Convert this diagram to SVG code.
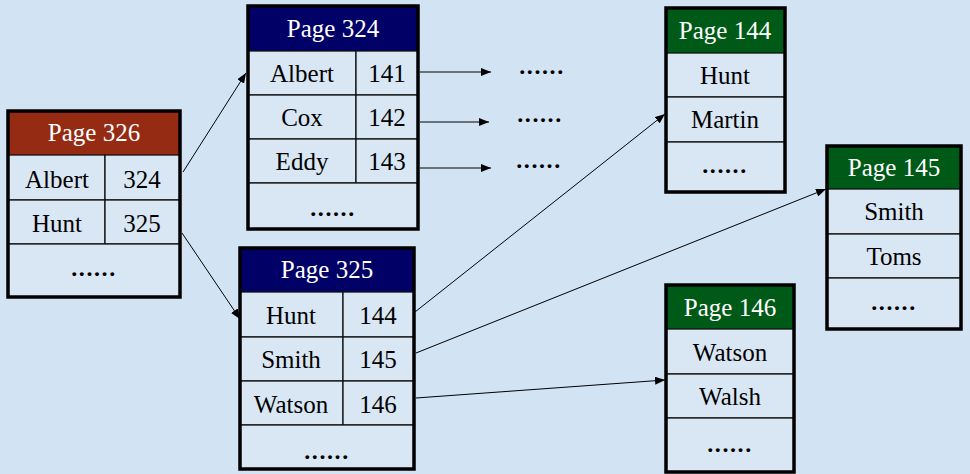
<svg xmlns="http://www.w3.org/2000/svg" width="970" height="474" viewBox="0 0 970 474">
<defs>
<marker id="ah" viewBox="0 0 10 8" refX="10" refY="4" markerWidth="10" markerHeight="8" markerUnits="userSpaceOnUse" orient="auto">
<path d="M0,0 L10,4 L0,8 Z" fill="#000"/>
</marker>
</defs>
<style>
.bg{fill:#d2e3f3}
.cell{fill:#d9e7f5;stroke:#111;stroke-width:1.3}
.frame{fill:none;stroke:#000;stroke-width:3.5}
.red{fill:#962b14}
.navy{fill:#000066}
.green{fill:#005a17}
.ht{font-family:"Liberation Serif","Times New Roman",serif;font-size:25px;fill:#fff;text-anchor:middle}
.t{font-family:"Liberation Serif","Times New Roman",serif;font-size:25px;fill:#000;text-anchor:middle}
.d{font-family:"Liberation Serif","Times New Roman",serif;font-size:24px;font-weight:bold;fill:#000;text-anchor:middle;letter-spacing:1.6px}
.c{stroke:#000;stroke-width:1;fill:none;marker-end:url(#ah)}
</style>
<rect class="bg" x="0" y="0" width="970" height="474"/>

<g id="page326">
<rect class="red" x="8" y="111" width="172" height="44"/>
<rect class="cell" x="8" y="155" width="97" height="45"/>
<rect class="cell" x="105" y="155" width="75" height="45"/>
<rect class="cell" x="8" y="200" width="97" height="44"/>
<rect class="cell" x="105" y="200" width="75" height="44"/>
<rect class="cell" x="8" y="244" width="172" height="53"/>
<rect class="frame" x="8" y="111" width="172" height="186"/>
<text class="ht" x="94" y="141">Page 326</text>
<text class="t" x="57" y="188">Albert</text>
<text class="t" x="142" y="188">324</text>
<text class="t" x="57" y="232">Hunt</text>
<text class="t" x="142" y="232">325</text>
<text class="d" x="94" y="276">......</text>
</g>

<g id="page324">
<rect class="navy" x="248" y="6" width="170" height="45"/>
<rect class="cell" x="248" y="51" width="108" height="44"/>
<rect class="cell" x="356" y="51" width="62" height="44"/>
<rect class="cell" x="248" y="95" width="108" height="44"/>
<rect class="cell" x="356" y="95" width="62" height="44"/>
<rect class="cell" x="248" y="139" width="108" height="44"/>
<rect class="cell" x="356" y="139" width="62" height="44"/>
<rect class="cell" x="248" y="183" width="170" height="46"/>
<rect class="frame" x="248" y="6" width="170" height="223"/>
<text class="ht" x="333" y="37">Page 324</text>
<text class="t" x="302" y="82">Albert</text>
<text class="t" x="387" y="82">141</text>
<text class="t" x="302" y="126">Cox</text>
<text class="t" x="387" y="126">142</text>
<text class="t" x="302" y="170">Eddy</text>
<text class="t" x="387" y="170">143</text>
<text class="d" x="333" y="216">......</text>
</g>

<g id="page325">
<rect class="navy" x="240" y="248" width="174" height="44"/>
<rect class="cell" x="240" y="292" width="103" height="45"/>
<rect class="cell" x="343" y="292" width="71" height="45"/>
<rect class="cell" x="240" y="337" width="103" height="44"/>
<rect class="cell" x="343" y="337" width="71" height="44"/>
<rect class="cell" x="240" y="381" width="103" height="44"/>
<rect class="cell" x="343" y="381" width="71" height="44"/>
<rect class="cell" x="240" y="425" width="174" height="44"/>
<rect class="frame" x="240" y="248" width="174" height="221"/>
<text class="ht" x="327" y="278">Page 325</text>
<text class="t" x="291" y="324">Hunt</text>
<text class="t" x="378" y="324">144</text>
<text class="t" x="291" y="368">Smith</text>
<text class="t" x="378" y="368">145</text>
<text class="t" x="291" y="413">Watson</text>
<text class="t" x="378" y="413">146</text>
<text class="d" x="327" y="459">......</text>
</g>

<g id="page144">
<rect class="green" x="666" y="8" width="119" height="45"/>
<rect class="cell" x="666" y="53" width="119" height="44"/>
<rect class="cell" x="666" y="97" width="119" height="45"/>
<rect class="cell" x="666" y="142" width="119" height="50"/>
<rect class="frame" x="666" y="8" width="119" height="184"/>
<text class="ht" x="725" y="39">Page 144</text>
<text class="t" x="725" y="84">Hunt</text>
<text class="t" x="725" y="128">Martin</text>
<text class="d" x="725" y="173">......</text>
</g>

<g id="page145">
<rect class="green" x="827" y="146" width="134" height="43"/>
<rect class="cell" x="827" y="189" width="134" height="45"/>
<rect class="cell" x="827" y="234" width="134" height="44"/>
<rect class="cell" x="827" y="278" width="134" height="51"/>
<rect class="frame" x="827" y="146" width="134" height="183"/>
<text class="ht" x="894" y="176">Page 145</text>
<text class="t" x="894" y="220">Smith</text>
<text class="t" x="894" y="265">Toms</text>
<text class="d" x="894" y="310">......</text>
</g>

<g id="page146">
<rect class="green" x="666" y="285" width="128" height="44"/>
<rect class="cell" x="666" y="329" width="128" height="45"/>
<rect class="cell" x="666" y="374" width="128" height="44"/>
<rect class="cell" x="666" y="418" width="128" height="54"/>
<rect class="frame" x="666" y="285" width="128" height="187"/>
<text class="ht" x="730" y="316">Page 146</text>
<text class="t" x="730" y="361">Watson</text>
<text class="t" x="730" y="405">Walsh</text>
<text class="d" x="730" y="452">......</text>
</g>

<g id="dots">
<text class="d" x="542" y="74">......</text>
<text class="d" x="540" y="122">......</text>
<text class="d" x="539" y="168">......</text>
</g>

<g id="connectors">
<line class="c" x1="183" y1="172" x2="246" y2="73"/>
<line class="c" x1="182" y1="233" x2="240" y2="319"/>
<line class="c" x1="420" y1="72" x2="491" y2="72"/>
<line class="c" x1="420" y1="122" x2="489" y2="122"/>
<line class="c" x1="420" y1="168" x2="491" y2="168"/>
<line class="c" x1="415" y1="312" x2="665" y2="114"/>
<line class="c" x1="416" y1="353" x2="826" y2="189"/>
<line class="c" x1="416" y1="398" x2="665" y2="380"/>
</g>
</svg>
